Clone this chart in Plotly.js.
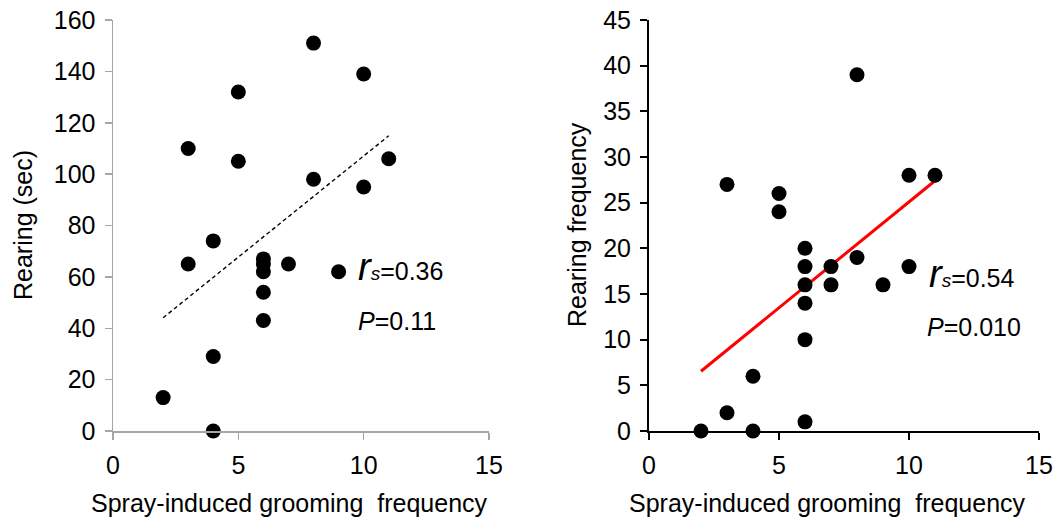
<!DOCTYPE html>
<html><head><meta charset="utf-8">
<script src="https://cdn.plot.ly/plotly-3.0.1.min.js"></script>
<style>html,body{margin:0;padding:0;background:#fff}</style>
</head><body><div id="chart" style="width:1060px;height:519px"></div>
<script>
// Left panel: Rearing (sec)
const groomLeft = [2,3,3,4,4,4,5,5,6,6,6,6,6,7,8,8,9,10,10,11];
const rearingSec = [13,110,65,74,29,0,132,105,67,65,62,54,43,65,151,98,62,139,95,106];
// Right panel: Rearing frequency
const groomRight = [2,3,3,4,4,5,5,6,6,6,6,6,6,7,7,8,8,9,10,10,11];
const rearingFreq = [0,27,2,6,0,26,24,20,18,16,14,10,1,18,16,39,19,16,28,18,28];
const statsLeft = {r: "0.36", p: "0.11"};
const statsRight = {r: "0.54", p: "0.010"};
const xTitle = "Spray-induced grooming\u00a0 frequency";
const yTitleLeft = "Rearing (sec)";
const yTitleRight = "Rearing frequency";

function fit(xs, ys){
  const n = xs.length;
  const mx = xs.reduce((a,b)=>a+b,0)/n, my = ys.reduce((a,b)=>a+b,0)/n;
  let sxy=0, sxx=0;
  for(let i=0;i<n;i++){sxy+=(xs[i]-mx)*(ys[i]-my); sxx+=(xs[i]-mx)**2;}
  const b = sxy/sxx, a = my-b*mx;
  const x0 = Math.min(...xs), x1 = Math.max(...xs);
  return {x:[x0,x1], y:[a+b*x0, a+b*x1]};
}
const fL = fit(groomLeft, rearingSec);
const fR = fit(groomRight, rearingFreq);

const font = "Liberation Sans, Arial, sans-serif";
const mk = {color:'#000', size:15};
const traces = [
  {x:fL.x, y:fL.y, mode:'lines', line:{color:'#000', width:1.4, dash:'4px,3px'}, xaxis:'x', yaxis:'y', hoverinfo:'skip'},
  {x:groomLeft, y:rearingSec, mode:'markers', marker:mk, xaxis:'x', yaxis:'y', cliponaxis:false},
  {x:fR.x, y:fR.y, mode:'lines', line:{color:'#ff0000', width:3}, xaxis:'x2', yaxis:'y2', hoverinfo:'skip'},
  {x:groomRight, y:rearingFreq, mode:'markers', marker:mk, xaxis:'x2', yaxis:'y2', cliponaxis:false}
];

function ax(domain, color, range, dtick, extra){
  return Object.assign({
    domain: domain, range: range, dtick: dtick, tick0: 0,
    showgrid:false, zeroline:false, showline:true, linecolor:color, linewidth: color==='#000'?2:1.5,
    ticks:'outside', ticklen:7, tickcolor:color, tickwidth: color==='#000'?2:1.5,
    tickfont:{family:font, size:25, color:'#000'},
    fixedrange:true
  }, extra||{});
}

const yDom = [1-431/519, 1-20/519];
function stat(xref, yref, x, y, txt){
  return {xref:xref, yref:yref, x:x, y:y, xanchor:'left', yanchor:'middle', showarrow:false,
          text:txt, font:{family:font, size:25, color:'#000'}};
}
function titleAnn(x, y, txt, angle){
  return {xref:'paper', yref:'paper', x:x, y:y, xanchor:'center', yanchor:'middle', showarrow:false,
          textangle:angle, text:txt, font:{family:font, size:25, color:'#000'}};
}
const layout = {
  width:1060, height:519, margin:{l:0,r:0,t:0,b:0},
  paper_bgcolor:'#fff', plot_bgcolor:'#fff', showlegend:false,
  font:{family:font, color:'#000'},
  xaxis: ax([113/1060, 489/1060], '#a6a6a6', [0,15], 5, {anchor:'y', ticklabelstandoff:4}),
  yaxis: ax(yDom, '#a6a6a6', [0,160], 20, {anchor:'x', ticklabelstandoff:4}),
  xaxis2: ax([649/1060, 1039/1060], '#000', [0,15], 5, {anchor:'y2', ticklabelstandoff:4}),
  yaxis2: ax(yDom, '#000', [0,45], 5, {anchor:'x2', ticklabelstandoff:4}),
  annotations: [
    titleAnn(289/1060, 1-503/519, xTitle, 0),
    titleAnn(827/1060, 1-503/519, xTitle, 0),
    titleAnn(23/1060, 1-225/519, yTitleLeft, -90),
    titleAnn(577/1060, 1-225/519, yTitleRight, -90),
    stat('x','y', 9.68, 64, "<span style='font-size:38px'><i>r</i></span><span style='font-size:19px'><i>s</i></span>=" + statsLeft.r),
    stat('x','y', 9.68, 43, "<i>P</i>=" + statsLeft.p),
    stat('x2','y2', 10.7, 17.2, "<span style='font-size:38px'><i>r</i></span><span style='font-size:19px'><i>s</i></span>=" + statsRight.r),
    stat('x2','y2', 10.62, 11.4, "<i>P</i>=" + statsRight.p)
  ]
};
Plotly.newPlot('chart', traces, layout, {staticPlot:true, displayModeBar:false});
</script></body></html>
